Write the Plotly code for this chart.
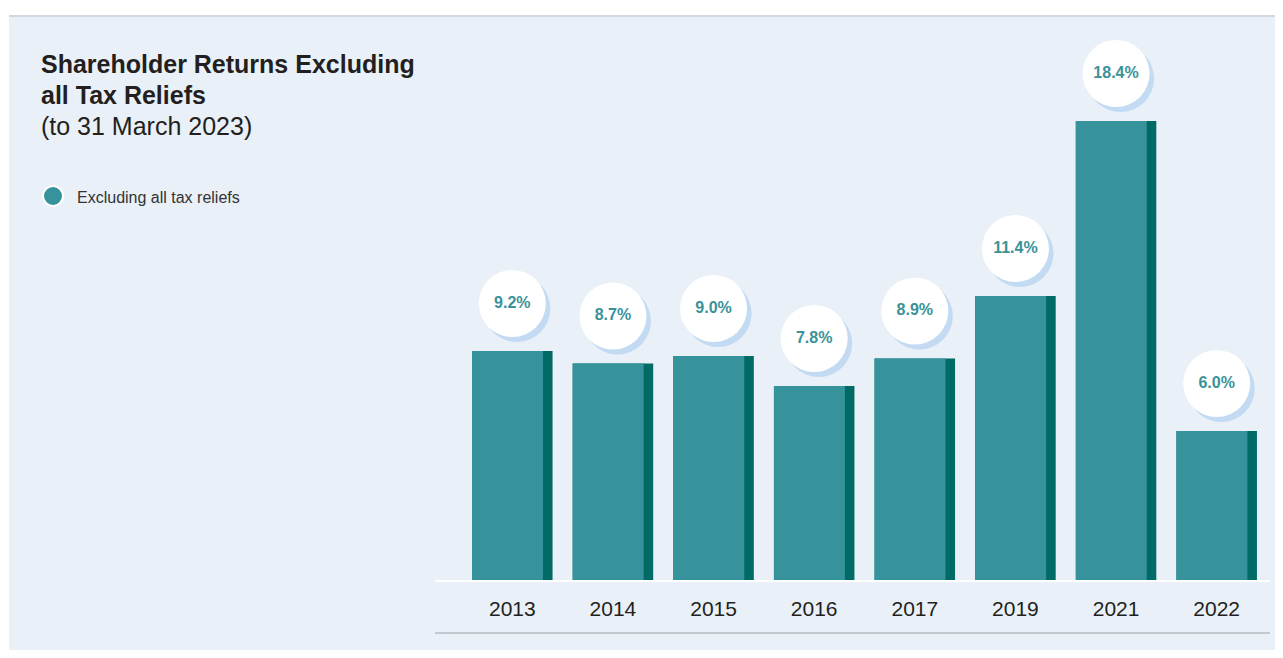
import plotly.graph_objects as go

# ── Data ───────────────────────────────────────────────────────────────────────
YEARS = ["2013", "2014", "2015", "2016", "2017", "2019", "2021", "2022"]
RETURNS = [9.2, 8.7, 9.0, 7.8, 8.9, 11.4, 18.4, 6.0]
SERIES_NAME = "Excluding all tax reliefs"

# ── Colors ─────────────────────────────────────────────────────────────────────
PANEL_BG = "#E9F0F7"
TEAL = "#37939B"
TEAL_DARK = "#006B66"
LABEL_TEAL = "#3A9299"
SHADOW = "#C3DBF2"
TEXT = "#231F20"
FONT = "Liberation Sans, Arial, Helvetica, sans-serif"

# ── Geometry (page px -> paper coords) ─────────────────────────────────────────
W, H = 1267, 642          # figure size (body has 8px margin)
ML, MR, MT, MB = 454, 8, 22, 69
PW, PH = W - ML - MR, H - MT - MB
Y_MAX = PH / 25.0         # 25 px per percentage point


def px(x_page):
    return (x_page - 8 - ML) / PW


def py(y_page):
    return (H - MB - (y_page - 8)) / PH


idx = list(range(len(YEARS)))
bubble_y = [v + 1.9 for v in RETURNS]

fig = go.Figure()

# dark right-hand edge of each bar
fig.add_trace(go.Bar(
    x=idx, y=RETURNS, width=0.8, offset=-0.4,
    marker=dict(color=TEAL_DARK, line=dict(width=0)),
    hoverinfo="skip", showlegend=False,
))
# main bar face
fig.add_trace(go.Bar(
    x=idx, y=RETURNS, width=0.705, offset=-0.4,
    marker=dict(color=TEAL, line=dict(width=0)),
    name=SERIES_NAME, customdata=YEARS,
    hovertemplate="<b>%{customdata}</b><br>%{y:.1f}%<extra></extra>",
    showlegend=False,
))
# bubble shadows
fig.add_trace(go.Scatter(
    x=[i + 0.045 for i in idx], y=[b - 0.2 for b in bubble_y],
    mode="markers",
    marker=dict(size=67, color=SHADOW, line=dict(width=0)),
    hoverinfo="skip", showlegend=False,
))
# bubbles with value labels
fig.add_trace(go.Scatter(
    x=idx, y=bubble_y,
    mode="markers+text",
    marker=dict(size=67, color="white", line=dict(width=0)),
    text=[f"{v:.1f}%" for v in RETURNS],
    textposition="middle center",
    textfont=dict(family=FONT, size=16, color=LABEL_TEAL, weight="bold"),
    hoverinfo="skip", showlegend=False,
))

shapes = [
    # panel background
    dict(type="rect", xref="paper", yref="paper", layer="below",
         x0=px(9), x1=1.2, y0=-0.3, y1=py(16),
         fillcolor=PANEL_BG, line=dict(width=0)),
    # top border
    dict(type="line", xref="paper", yref="paper", layer="below",
         x0=px(9), x1=1.2, y0=py(16), y1=py(16),
         line=dict(color="#D2D8DF", width=2)),
    # white baseline
    dict(type="line", xref="paper", yref="paper", layer="above",
         x0=px(435), x1=px(1270), y0=0, y1=0,
         line=dict(color="white", width=2)),
    # grey rule under the year labels
    dict(type="line", xref="paper", yref="paper", layer="below",
         x0=px(435), x1=px(1270), y0=py(633), y1=py(633),
         line=dict(color="#B9BDC2", width=1.5)),
    # legend dot
    dict(type="circle", xref="paper", yref="paper", layer="above",
         x0=px(43), x1=px(63), y0=py(206), y1=py(186),
         fillcolor=TEAL, line=dict(color="white", width=2)),
]

annotations = [
    dict(text="<b>Shareholder Returns Excluding</b>", x=px(39), y=py(64)),
    dict(text="<b>all Tax Reliefs</b>", x=px(39), y=py(95)),
    dict(text="(to 31 March 2023)", x=px(39), y=py(126)),
]
for a in annotations:
    a.update(xref="paper", yref="paper", xanchor="left", yanchor="middle",
             showarrow=False, font=dict(family=FONT, size=25, color=TEXT))
annotations.append(dict(
    text=SERIES_NAME, x=px(75), y=py(197), xref="paper", yref="paper",
    xanchor="left", yanchor="middle", showarrow=False,
    font=dict(family=FONT, size=16, color="#333333"),
))

fig.update_layout(
    width=W, height=H,
    margin=dict(l=ML, r=MR, t=MT, b=MB),
    paper_bgcolor="white",
    plot_bgcolor="rgba(0,0,0,0)",
    font=dict(family=FONT, color=TEXT),
    barmode="overlay",
    showlegend=False,
    xaxis=dict(
        range=[-0.5, len(YEARS) - 0.5],
        tickmode="array", tickvals=idx, ticktext=YEARS,
        tickfont=dict(family=FONT, size=21, color=TEXT),
        ticks="", ticklabelstandoff=13,
        showgrid=False, zeroline=False, showline=False,
    ),
    yaxis=dict(range=[0, Y_MAX], visible=False, showgrid=False, zeroline=False),
    shapes=shapes,
    annotations=annotations,
)

fig.write_html("out.html")
